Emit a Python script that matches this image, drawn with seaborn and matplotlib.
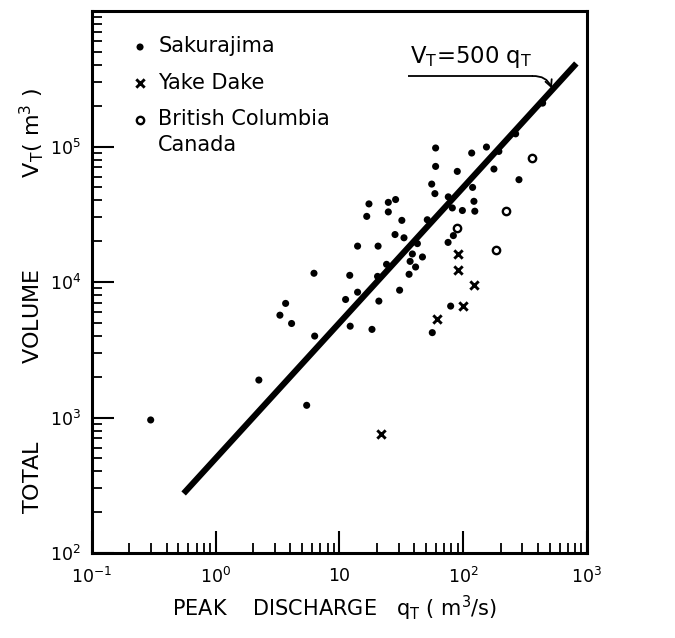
import numpy as np
import pandas as pd
import matplotlib
matplotlib.use("Agg")
import matplotlib.pyplot as plt
import seaborn as sns
from matplotlib.ticker import LogLocator, NullFormatter, FixedLocator, FixedFormatter

# ---------------- data ----------------
saku_q = [59.8, 117, 154, 194, 59.8, 89.5, 177, 282, 55.6, 119, 59, 75.7, 122,
          17.3, 24.8, 28.4, 81.6, 98.4, 124, 16.6, 24.8, 31.9, 51.2, 28.1, 33.2,
          83.2, 75.4, 42.6, 14.0, 20.5, 38.8, 46.8, 37.2, 41.2, 24.0, 6.22, 12.1,
          20.3, 36.5, 30.6, 14.0, 11.2, 20.8, 79.1, 3.67, 3.30, 4.10, 12.2, 18.3,
          56.2, 6.30, 2.23, 5.43, 0.298, 265, 438]
saku_v = [97500, 89500, 99100, 92000, 71300, 65500, 68200, 56900, 52800, 49900,
          44900, 42500, 39400, 37700, 38700, 40600, 35200, 33700, 33300, 30500,
          32900, 28500, 28800, 22400, 21200, 22000, 19600, 19200, 18400, 18400,
          16100, 15300, 14200, 12900, 13500, 11600, 11200, 11000, 11400, 8700,
          8410, 7430, 7230, 6640, 6950, 5690, 4940, 4720, 4470, 4230, 3990, 1890,
          1230, 959, 124000, 209000]
yake_q = [90.6, 91.2, 122, 99.6, 61.0, 21.8]
yake_v = [16000, 12200, 9460, 6640, 5300, 753]
bc_q = [357, 220, 89.5, 183]
bc_v = [82200, 33700, 25100, 17300]

line_coef = 500
line_q = [0.55, 820]
line_v = [line_coef * q for q in line_q]

x_ticks = [0.1, 1, 10, 100, 1000]
x_tick_labels = [r"$10^{-1}$", r"$10^{0}$", "10", r"$10^{2}$", r"$10^{3}$"]
y_ticks = [1e2, 1e3, 1e4, 1e5]
y_tick_labels = [r"$10^{2}$", r"$10^{3}$", r"$10^{4}$", r"$10^{5}$"]

df_saku = pd.DataFrame({"q": saku_q, "V": saku_v})
df_yake = pd.DataFrame({"q": yake_q, "V": yake_v})
df_bc = pd.DataFrame({"q": bc_q, "V": bc_v})
df_line = pd.DataFrame({"q": line_q, "V": line_v})

# ---------------- style ----------------
sns.set_theme(style="white")
plt.rcParams["font.family"] = ["DejaVu Sans"]
plt.rcParams["mathtext.fontset"] = "dejavusans"
plt.rcParams["mathtext.default"] = "regular"

W, H = 675, 638
fig = plt.figure(figsize=(W / 100, H / 100), dpi=100)
L, R, T, B = 92, 587, 11, 553
ax = fig.add_axes([L / W, 1 - B / H, (R - L) / W, (B - T) / H])

sns.lineplot(data=df_line, x="q", y="V", ax=ax, color="black", lw=4.4,
             solid_capstyle="butt", legend=False)
sns.scatterplot(data=df_saku, x="q", y="V", ax=ax, marker="o", s=26,
                color="black", edgecolor="none", label="Sakurajima", zorder=3)
sns.scatterplot(data=df_yake, x="q", y="V", ax=ax, marker="x", s=36,
                color="black", linewidth=2.1, label="Yake Dake", zorder=3)
sns.scatterplot(data=df_bc, x="q", y="V", ax=ax, marker="o", s=28,
                facecolor="white", edgecolor="black", linewidth=1.7,
                label="British Columbia", zorder=3)

ax.set_xscale("log")
ax.set_yscale("log")
ax.set_xlim(0.1, 1000)
ax.set_ylim(100, 1e6)

ax.xaxis.set_major_locator(FixedLocator(x_ticks))
ax.xaxis.set_major_formatter(FixedFormatter(x_tick_labels))
ax.yaxis.set_major_locator(FixedLocator(y_ticks))
ax.yaxis.set_major_formatter(FixedFormatter(y_tick_labels))
ax.xaxis.set_minor_locator(LogLocator(base=10, subs=np.arange(2, 10)))
ax.yaxis.set_minor_locator(LogLocator(base=10, subs=np.arange(2, 10)))
ax.xaxis.set_minor_formatter(NullFormatter())
ax.yaxis.set_minor_formatter(NullFormatter())

ax.tick_params(which="major", direction="in", length=16, width=1.5,
               labelsize=12.5, color="black", labelcolor="black",
               bottom=True, left=True, top=False, right=False)
ax.tick_params(axis="x", which="major", pad=10)
ax.tick_params(axis="y", which="major", pad=8)
ax.tick_params(which="minor", direction="in", length=7, width=1.3,
               color="black", bottom=True, left=True, top=False, right=False)

for sp in ax.spines.values():
    sp.set_linewidth(2.2)
    sp.set_color("black")

ax.set_xlabel(r"PEAK    DISCHARGE   $\mathrm{q_T}$ ( m$^{3}$/s)", fontsize=15,
              color="black")
ax.xaxis.set_label_coords(0.49, -0.076)
ax.set_ylabel(r"TOTAL" + " " * 11 + "VOLUME" + " " * 13 + r"$\mathrm{V_T}$( m$^{3}$ )",
              fontsize=16, color="black")
ax.yaxis.set_label_coords(-0.093, 0.466)

# legend
leg = ax.legend(loc="upper left", bbox_to_anchor=(0.076, 0.953), frameon=False,
                fontsize=15, handlelength=1.0, handletextpad=0.37,
                labelspacing=0.78, borderaxespad=0, borderpad=0)
for t in leg.get_texts():
    t.set_color("black")
ax.text(0.133, 0.753, "Canada", transform=ax.transAxes, fontsize=15,
        ha="left", va="center", color="black")

# equation annotation
ax.text(0.642, 0.904, r"$\mathrm{V_T}$=500 $\mathrm{q_T}$", transform=ax.transAxes,
        fontsize=16.4, ha="left", va="baseline", color="black")
ax.plot([0.638, 0.891], [0.880, 0.880], transform=ax.transAxes, color="black",
        lw=1.3, solid_capstyle="butt")
ax.annotate("", xy=(0.929, 0.857), xycoords="axes fraction",
            xytext=(0.890, 0.880), textcoords="axes fraction",
            arrowprops=dict(arrowstyle="->", color="black", lw=1.3,
                            connectionstyle="arc3,rad=-0.35",
                            shrinkA=0, shrinkB=0, mutation_scale=12))

fig.savefig("out.png", dpi=100, facecolor="white")
